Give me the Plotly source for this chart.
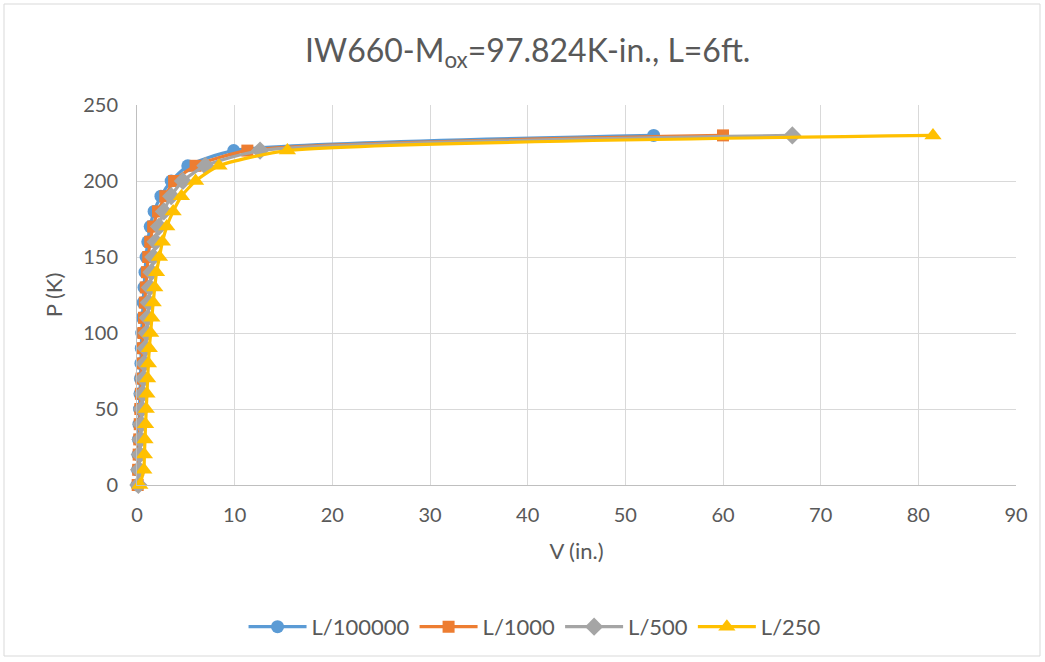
import plotly.graph_objects as go

# Axial load steps (K)
load = [0, 10, 20, 30, 40, 50, 60, 70, 80, 90, 100, 110,
        120, 130, 140, 150, 160, 170, 180, 190, 200, 210, 220, 230]

# Lateral deflection V (in.) for each initial out-of-straightness
v_l100000 = [0.0, 0.05, 0.10, 0.15, 0.20, 0.25, 0.30, 0.35, 0.40, 0.44, 0.48, 0.55,
             0.63, 0.72, 0.82, 0.93, 1.10, 1.35, 1.75, 2.45, 3.5, 5.2, 9.9, 52.9]
v_l1000 = [0.07, 0.12, 0.17, 0.23, 0.28, 0.34, 0.40, 0.46, 0.52, 0.58, 0.65, 0.72,
           0.80, 0.90, 1.02, 1.15, 1.35, 1.65, 2.15, 2.9, 3.8, 6.0, 11.3, 60.0]
v_l500 = [0.14, 0.21, 0.28, 0.35, 0.43, 0.50, 0.58, 0.67, 0.76, 0.87, 1.0, 1.1,
          1.2, 1.32, 1.48, 1.67, 1.9, 2.25, 2.75, 3.5, 4.7, 7.0, 12.6, 67.1]
v_l250 = [0.29, 0.70, 0.76, 0.82, 0.88, 0.95, 1.02, 1.09, 1.17, 1.26, 1.40, 1.52,
          1.66, 1.82, 2.0, 2.3, 2.6, 3.05, 3.7, 4.55, 6.0, 8.4, 15.4, 81.5]

series = [
    ("L/100000", v_l100000, "#5B9BD5", "circle", 13),
    ("L/1000", v_l1000, "#ED7D31", "square", 12),
    ("L/500", v_l500, "#A5A5A5", "diamond", 14),
    ("L/250", v_l250, "#FFC000", "triangle-up", 15),
]

x_ticks = list(range(0, 91, 10))
y_ticks = list(range(0, 251, 50))

FONT = "Lato, 'Liberation Sans', sans-serif"
TEXT = "#595959"

fig = go.Figure()
for name, vals, color, symbol, size in series:
    fig.add_trace(go.Scatter(
        x=vals, y=load, name=name, mode="lines+markers",
        line=dict(color=color, width=3.2, shape="spline", smoothing=0.6),
        marker=dict(symbol=symbol, size=size, color=color),
        cliponaxis=False,
    ))

fig.update_layout(
    width=1045, height=662,
    margin=dict(l=137, r=29, t=105, b=177),
    paper_bgcolor="white", plot_bgcolor="white",
    font=dict(family=FONT, color=TEXT, size=20),
    title=dict(
        text="IW660-M<sub>ox</sub>=97.824K-in., L=6ft.",
        x=0.505, xref="container", xanchor="center",
        y=0.924, yref="container", yanchor="middle",
        font=dict(size=32, color=TEXT, family=FONT),
    ),
    legend=dict(
        orientation="h", x=0.512, xref="container", xanchor="center",
        y=0.053, yref="container", yanchor="middle",
        font=dict(size=22, color=TEXT), itemwidth=58,
        bgcolor="rgba(0,0,0,0)",
    ),
    xaxis=dict(
        range=[0, 90], tickvals=x_ticks, showgrid=True, gridcolor="#D9D9D9",
        gridwidth=1, zeroline=False, showline=True, linecolor="#BFBFBF",
        linewidth=1, ticks="", tickfont=dict(size=20), ticklabelstandoff=12,
        title=dict(text="V (in.)", font=dict(size=22), standoff=18),
    ),
    yaxis=dict(
        range=[0, 250], tickvals=y_ticks, showgrid=True, gridcolor="#D9D9D9",
        gridwidth=1, zeroline=False, showline=True, linecolor="#BFBFBF",
        linewidth=1, ticks="", tickfont=dict(size=20), ticklabelstandoff=14,
        title=dict(text="P (K)", font=dict(size=22), standoff=14),
    ),
    showlegend=True,
)

# Chart outline
fig.add_shape(
    type="rect", xref="paper", yref="paper",
    x0=(4 - 137) / 879, x1=(1040 - 137) / 879,
    y0=(485 - 656) / 380, y1=(485 - 4) / 380,
    line=dict(color="#D9D9D9", width=1), fillcolor="rgba(0,0,0,0)", layer="below",
)

fig.write_html("out.html")
